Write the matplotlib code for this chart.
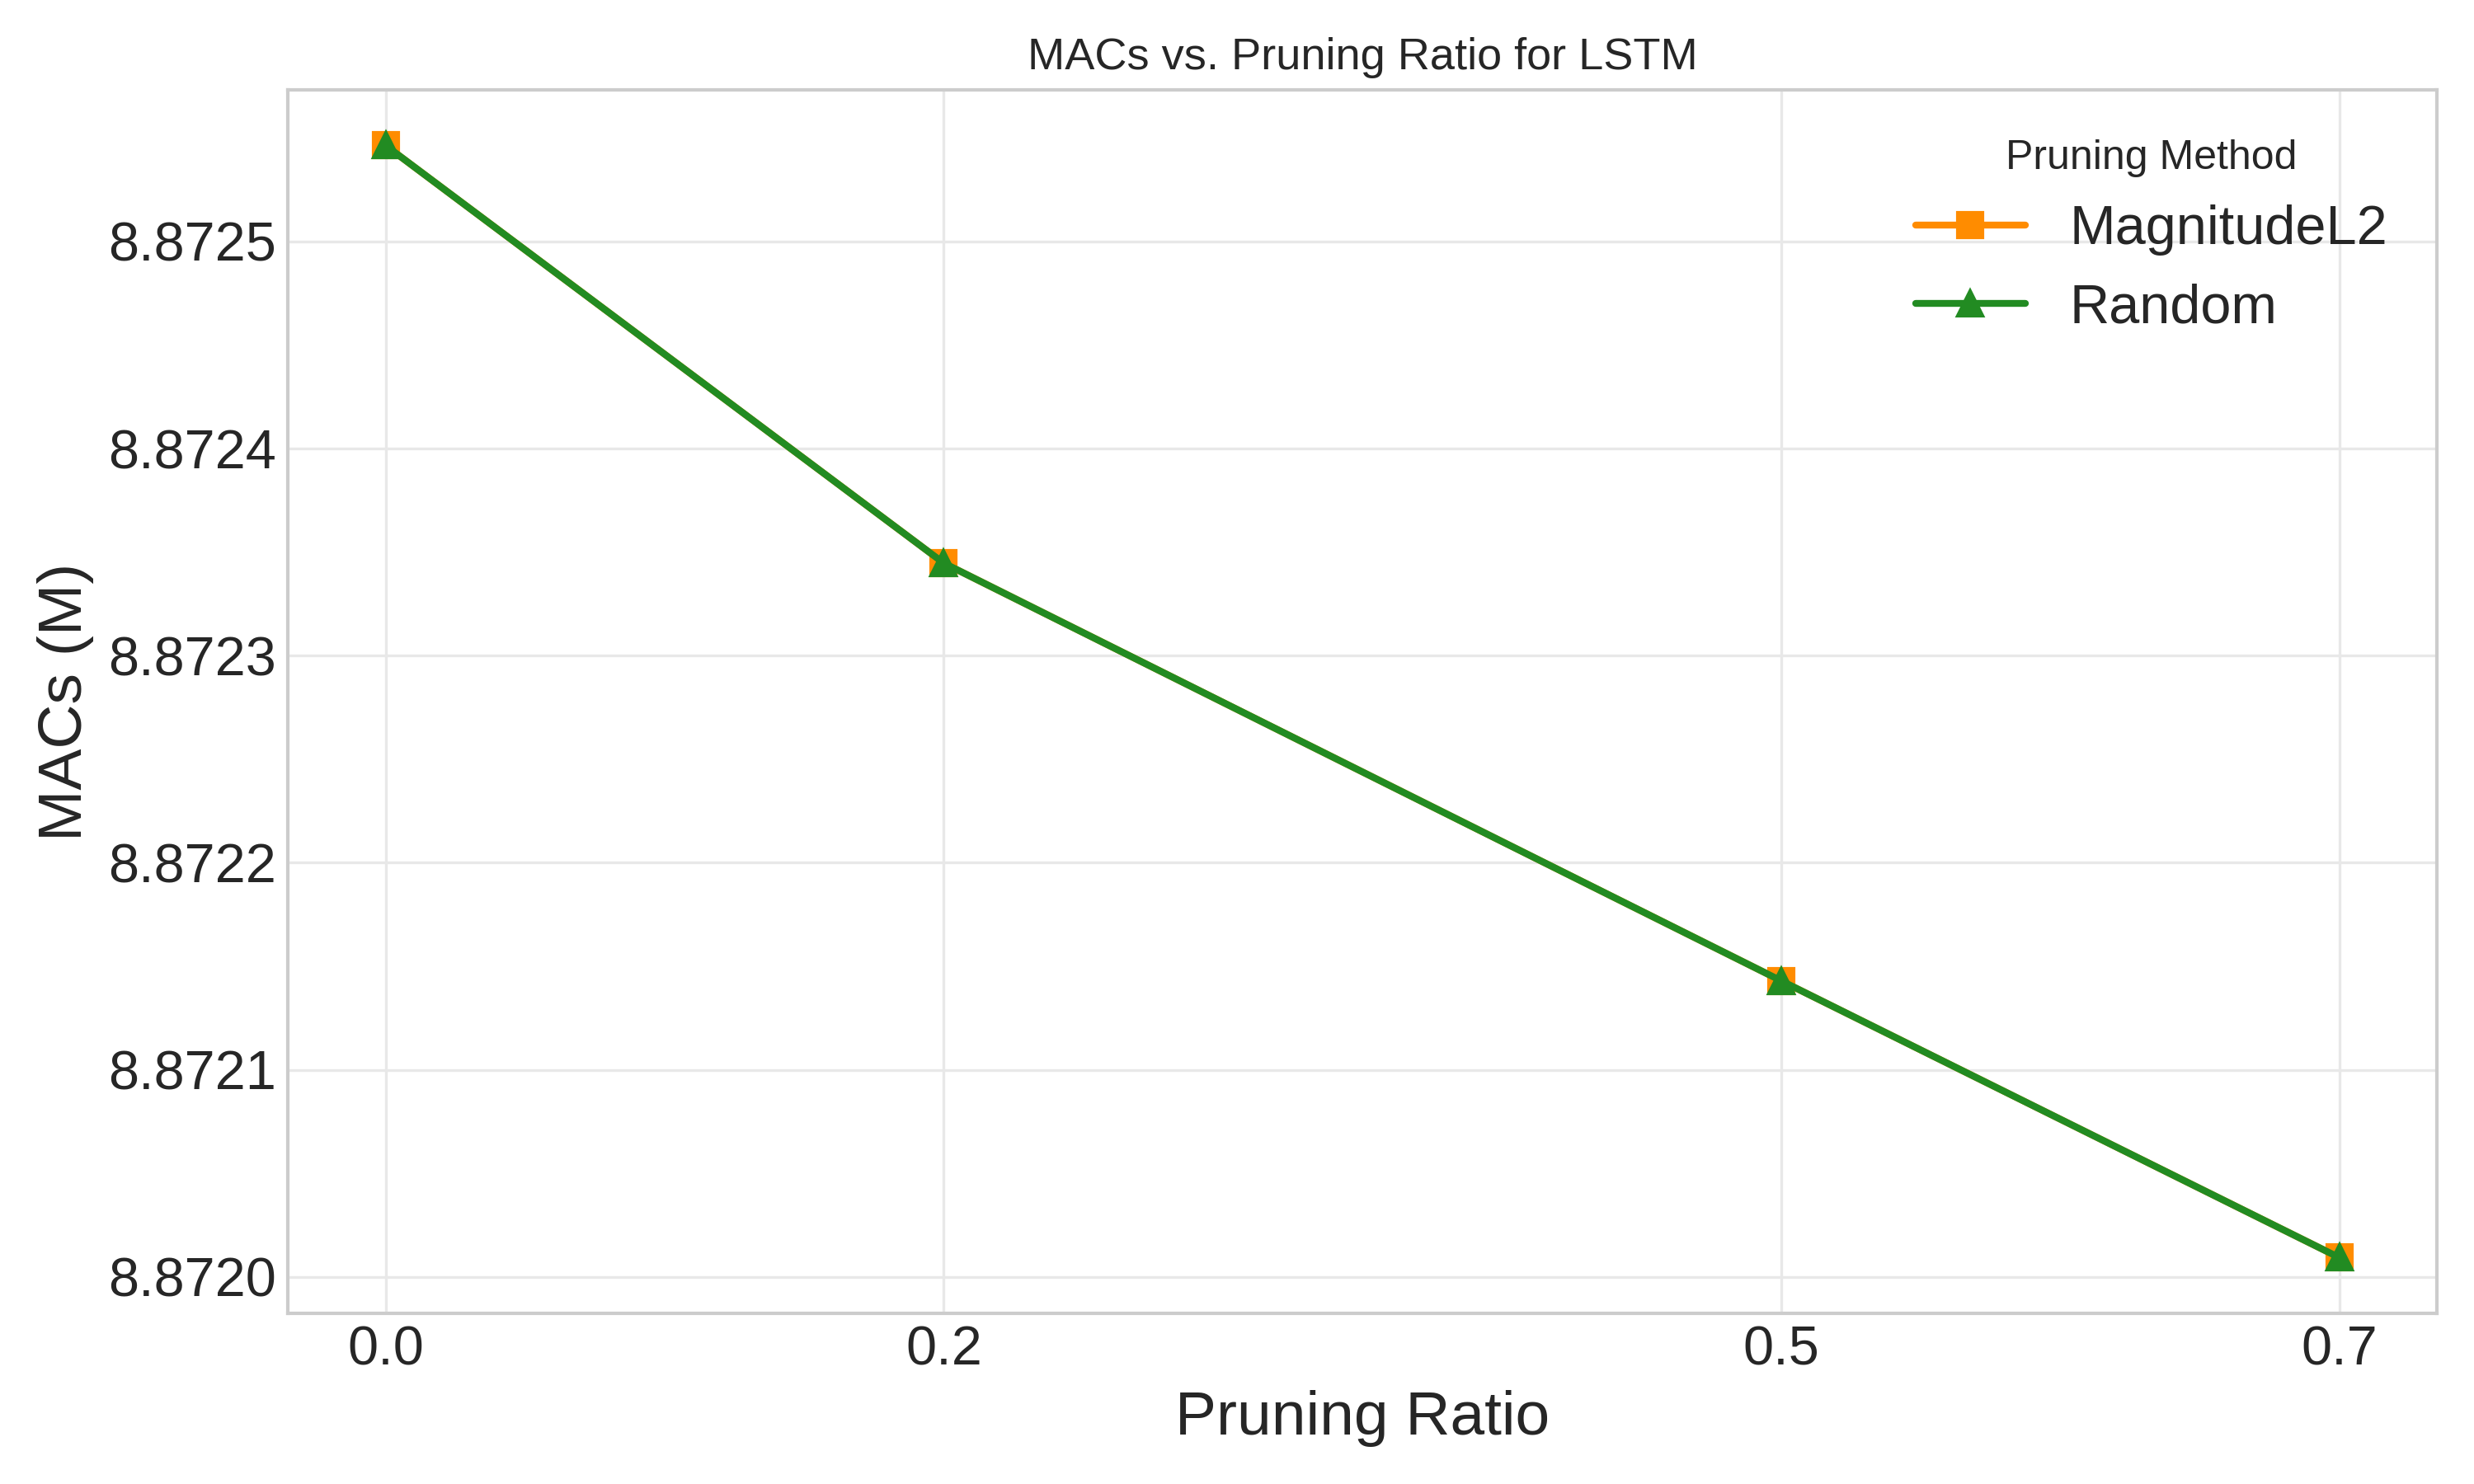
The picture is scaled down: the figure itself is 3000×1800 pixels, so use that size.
import matplotlib
matplotlib.use("Agg")
import matplotlib.pyplot as plt

ratios = [0.0, 0.2, 0.5, 0.7]
mag_l2 = [8.8725464, 8.8723447, 8.8721430, 8.8720093]
random_ = [8.8725464, 8.8723447, 8.8721430, 8.8720093]
yticks = [8.8720, 8.8721, 8.8722, 8.8723, 8.8724, 8.8725]

plt.style.use("seaborn-v0_8-whitegrid")
plt.rcParams['font.family'] = ['Liberation Sans', 'DejaVu Sans']

fig, ax = plt.subplots(figsize=(10, 6), dpi=300)
ax.plot(ratios, mag_l2, marker='s', color='darkorange', linewidth=2, markersize=7, label='MagnitudeL2')
ax.plot(ratios, random_, marker='^', color='forestgreen', linewidth=2, markersize=7, label='Random')
ax.set_xticks(ratios)
ax.set_xticklabels(['0.0', '0.2', '0.5', '0.7'])
ax.set_yticks(yticks)
ax.set_yticklabels([f"{v:.4f}" for v in yticks])
ax.tick_params(labelsize=16)
ax.set_xlabel('Pruning Ratio', fontsize=18)
ax.set_ylabel('MACs (M)', fontsize=18)
ax.set_title('MACs vs. Pruning Ratio for LSTM', fontsize=13)
for s in ax.spines.values():
    s.set_visible(True)
    s.set_color('#cccccc')
ax.grid(True, color='#e8e8e8')
leg = ax.legend(title='Pruning Method', fontsize=16, title_fontsize=12, loc='upper right')
fig.tight_layout()
fig.savefig('out.png')
